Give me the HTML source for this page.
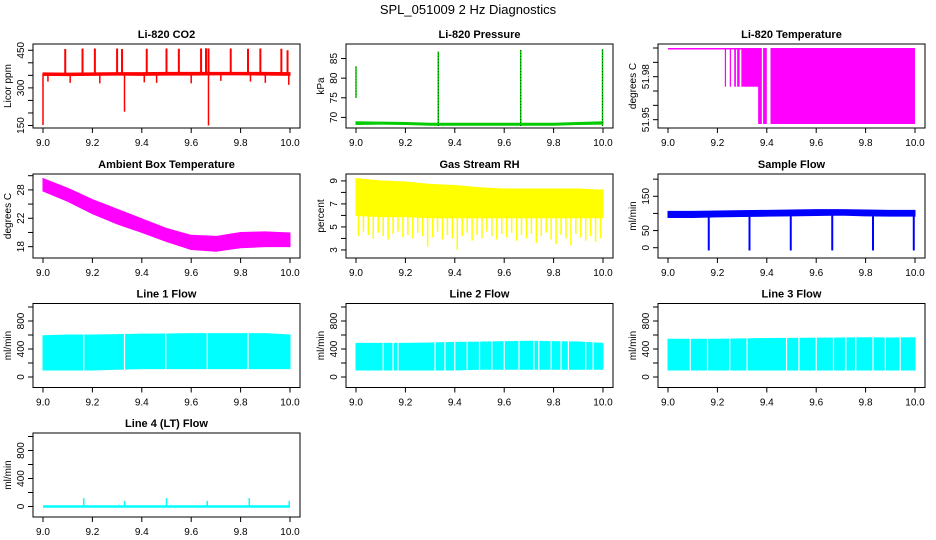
<!DOCTYPE html>
<html><head><meta charset="utf-8"><style>
body{margin:0;background:#fff;}
svg{display:block;font-family:"Liberation Sans",sans-serif;}
</style></head><body>
<svg id="c" width="936" height="540">
<text x="468" y="14" text-anchor="middle" font-size="13">SPL_051009  2 Hz Diagnostics</text>
</svg>
<script>
// ---- data ----
const xTicks = [9.0, 9.2, 9.4, 9.6, 9.8, 10.0];
const xTickLabels = ["9.0", "9.2", "9.4", "9.6", "9.8", "10.0"];
const gridX = [9.0, 9.1, 9.2, 9.3, 9.4, 9.5, 9.6, 9.7, 9.8, 9.9, 10.0];

// CO2
const co2Lo = [350, 349, 350, 351, 350, 351, 351, 352, 352, 351, 350];
const co2Hi = [360, 359, 360, 361, 361, 362, 362, 362, 362, 362, 361];
const co2UpX = [9.09, 9.16, 9.21, 9.30, 9.32, 9.42, 9.50, 9.55, 9.64, 9.66, 9.67, 9.76, 9.83, 9.88, 9.965, 9.99];
const co2UpV = [455, 457, 457, 457, 455, 456, 457, 456, 457, 458, 457, 457, 456, 457, 456, 450];
const co2DnX = [9.0, 9.33, 9.67, 9.02, 9.11, 9.23, 9.41, 9.46, 9.60, 9.72, 9.84, 9.90, 9.995];
const co2DnV = [152, 205, 150, 325, 320, 318, 322, 320, 318, 328, 325, 320, 312];
// Pressure
const presLo = [68.2, 68.3, 68.2, 68.0, 68.0, 68.0, 68.0, 68.0, 68.0, 68.2, 68.3];
const presHi = [68.9, 68.8, 68.7, 68.5, 68.5, 68.5, 68.5, 68.5, 68.5, 68.7, 68.9];
const presSpX = [9.0, 9.333, 9.667, 9.998];
const presSpLo = [75, 67.8, 67.8, 67.8];
const presSpHi = [83, 86.8, 87.2, 87.4];
// Li-820 temperature (fill segments)
const tSegStart = [9.0, 9.23, 9.25, 9.268, 9.28, 9.297, 9.365, 9.385, 9.415];
const tSegEnd   = [9.3, 9.235, 9.255, 9.275, 9.29, 9.37, 9.38, 9.40, 10.0];
const tSegLow   = [51.9995, 51.973, 51.973, 51.973, 51.973, 51.973, 51.947, 51.947, 51.947];
const tTop = 52.0;
// Ambient box temperature
const ambHi = [30.0, 28.3, 26.3, 24.6, 22.9, 21.2, 20.0, 19.8, 20.5, 20.6, 20.4];
const ambLo = [27.8, 26.0, 23.8, 22.0, 20.5, 18.9, 17.5, 17.2, 17.8, 18.0, 18.0];
// Gas stream RH
const rhHi = [9.2, 9.0, 8.9, 8.7, 8.6, 8.4, 8.3, 8.3, 8.3, 8.3, 8.2];
const rhLo = [6.0, 5.9, 5.9, 5.8, 5.8, 5.8, 5.8, 5.8, 5.8, 5.8, 5.8];
const rhDipX = [9.01,9.03,9.05,9.07,9.09,9.11,9.13,9.15,9.17,9.19,9.21,9.23,9.25,9.27,9.29,9.31,9.33,9.35,9.37,9.39,9.41,9.43,9.45,9.47,9.49,9.51,9.53,9.55,9.57,9.59,9.61,9.63,9.65,9.67,9.69,9.71,9.73,9.75,9.77,9.79,9.81,9.83,9.85,9.87,9.89,9.91,9.93,9.95,9.97,9.99];
const rhDipV = [4.2,4.6,4.3,4.0,4.5,4.2,3.9,4.4,4.6,4.1,4.3,4.0,4.5,4.2,3.3,4.1,4.6,3.9,4.3,4.0,3.0,4.2,4.5,3.8,4.3,4.0,4.6,4.2,3.9,4.4,4.1,4.5,3.8,4.3,4.0,4.4,3.6,4.2,4.5,3.9,3.5,4.3,4.0,3.4,4.4,4.1,3.8,4.2,3.7,4.0];
// Sample flow
const sfLo = [88, 88, 90, 91, 92, 93, 94, 95, 93, 92, 92];
const sfHi = [106, 106, 107, 108, 109, 110, 111, 111, 110, 109, 109];
const sfDipX = [9.165, 9.33, 9.497, 9.665, 9.83, 9.995];
const sfDipV = [-8, -8, -8, -8, -8, -8];
// Line flows
const l1Hi = [590, 600, 600, 605, 612, 615, 620, 620, 620, 620, 600];
const l1Lo = [100, 100, 100, 110, 120, 120, 120, 120, 120, 120, 120];
const l1GapX = [9.165, 9.33, 9.497, 9.665, 9.83];
const l2Hi = [480, 480, 480, 485, 495, 498, 505, 510, 505, 500, 480];
const l2Lo = [100, 100, 100, 100, 100, 110, 110, 110, 110, 110, 110];
const l2GapX = [9.11, 9.15, 9.17, 9.32, 9.36, 9.40, 9.45, 9.50, 9.55, 9.60, 9.66, 9.72, 9.74, 9.79, 9.83, 9.86, 9.93, 9.96];
const l3Hi = [540, 540, 540, 545, 550, 552, 555, 558, 560, 558, 560];
const l3Lo = [100, 100, 100, 100, 100, 100, 100, 100, 100, 100, 100];
const l3GapX = [9.09, 9.16, 9.25, 9.32, 9.48, 9.53, 9.60, 9.67, 9.72, 9.76, 9.83, 9.88, 9.94];
const l4SpX = [9.165, 9.33, 9.5, 9.665, 9.835, 9.997];
const l4SpV = [120, 80, 120, 80, 120, 80];
const l4Base = 0;

// ---- layout ----
const NS = "http://www.w3.org/2000/svg";
const svg = document.getElementById('c');
const colX = [33, 346, 658];
const rowY = [44, 174, 303.5, 433];
const BW = 267, BH = 84;
function el(tag, attrs, parent) {
  const e = document.createElementNS(NS, tag);
  for (const k in attrs) e.setAttribute(k, attrs[k]);
  (parent || svg).appendChild(e);
  return e;
}
function panel(name, col, row, title, ylab, ymin, ymax, yTicks, yLabels) {
  const x0 = colX[col], y0 = rowY[row];
  const g = el('g', {});
  
  
  const sx = v => x0 + 10 + (v - 9) * (BW - 20);
  const sy = v => y0 + BH - (v - ymin) / (ymax - ymin) * BH;
  const plot = el('g', {}, g);
  
  
  const box = el('rect', {x: x0, y: y0, width: BW, height: BH, fill: 'none', stroke: '#000', 'stroke-width': 1}, g);
  
  
  const t = el('text', {x: x0 + BW / 2, y: y0 - 6, 'text-anchor': 'middle', 'font-size': 11, 'font-weight': 'bold'}, g);
  t.textContent = title;
  
  
  const xa = el('g', {}, g);
  
  
  xTicks.forEach((v, i) => {
    el('line', {x1: sx(v), x2: sx(v), y1: y0 + BH, y2: y0 + BH + 5, stroke: '#000'}, xa);
    const tx = el('text', {x: sx(v), y: y0 + BH + 18, 'text-anchor': 'middle', 'font-size': 10}, xa);
    tx.textContent = xTickLabels[i];
  });
  const ya = el('g', {}, g);
  
  
  yTicks.forEach((v, i) => {
    el('line', {x1: x0, x2: x0 - 5, y1: sy(v), y2: sy(v), stroke: '#000'}, ya);
    if (yLabels[i]) {
      const tx = el('text', {x: 0, y: 0, 'text-anchor': 'middle', 'font-size': 10, transform: `translate(${x0 - 9},${sy(v)}) rotate(-90)`}, ya);
      tx.textContent = yLabels[i];
    }
  });
  const yl = el('text', {x: 0, y: 0, 'text-anchor': 'middle', 'font-size': 10, transform: `translate(${x0 - 22},${y0 + BH / 2}) rotate(-90)`}, g);
  yl.textContent = ylab;
  
  
  return {sx, sy, plot};
}
function band(p, hi, lo, color) {
  let pts = gridX.map((x, i) => p.sx(x) + ',' + p.sy(hi[i]));
  pts = pts.concat(gridX.slice().reverse().map((x, j) => p.sx(x) + ',' + p.sy(lo[lo.length - 1 - j])));
  const b = el('polygon', {points: pts.join(' '), fill: color, stroke: color, 'stroke-width': 1}, p.plot);
  
  
}
function vline(p, x, a, b, color, w, dash) {
  const l = el('line', {x1: p.sx(x), x2: p.sx(x), y1: p.sy(a), y2: p.sy(b), stroke: color, 'stroke-width': w || 1.5}, p.plot);
  if (dash) l.setAttribute('stroke-dasharray', dash);
  
  
  return l;
}

let p = panel('co2', 0, 0, 'Li-820 CO2', 'Licor ppm', 140, 475, [150,200,250,300,350,400,450], ['150','','','300','','','450']);
band(p, co2Hi, co2Lo, '#ff0000');
co2UpX.forEach((x, i) => vline(p, x, 355, co2UpV[i], '#ff0000', 2));
co2DnX.forEach((x, i) => vline(p, x, 355, co2DnV[i], '#ff0000', 1.5));

p = panel('pressure', 1, 0, 'Li-820 Pressure', 'kPa', 67.3, 88.7, [70,75,80,85], ['70','75','80','85']);
band(p, presHi, presLo, '#00cc00');
presSpX.forEach((x, i) => { vline(p, x, presSpLo[i], presSpHi[i], '#00cc00', 1.5); vline(p, x, presSpLo[i], presSpHi[i], '#004400', 0.8, '1,2'); });

p = panel('li820-temp', 2, 0, 'Li-820 Temperature', 'degrees C', 51.9442, 52.0028, [51.95,51.96,51.97,51.98,51.99,52.0], ['51.95','','','51.98','','']);
tSegStart.forEach((s, i) => {
  const r = el('rect', {x: p.sx(s), y: p.sy(tTop), width: Math.max(1, p.sx(tSegEnd[i]) - p.sx(s)), height: Math.max(1.5, p.sy(tSegLow[i]) - p.sy(tTop)), fill: '#ff00ff'}, p.plot);
  
  
});

p = panel('ambient-temp', 0, 1, 'Ambient Box Temperature', 'degrees C', 16.0, 30.8, [18,20.5,23,25.5,28,30.5], ['18','','22','','28','']);
band(p, ambHi, ambLo, '#ff00ff');

p = panel('gas-rh', 1, 1, 'Gas Stream RH', 'percent', 2.3, 9.6, [3,4,5,6,7,8,9], ['3','','5','','7','','9']);
band(p, rhHi, rhLo, '#ffff00');
rhDipX.forEach((x, i) => vline(p, x, 6.0, rhDipV[i], '#ffff00', 1.5));

p = panel('sample-flow', 2, 1, 'Sample Flow', 'ml/min', -30, 215, [0,50,100,150,200], ['0','50','','150','']);
band(p, sfHi, sfLo, '#0000ff');
sfDipX.forEach((x, i) => vline(p, x, 95, sfDipV[i], '#0000ff', 2));

const lineTicks = [0,200,400,600,800,1000], lineLabels = ['0','','400','','800',''];
[[l1Hi, l1Lo, l1GapX, 'line1-flow', 0, 2, 'Line 1 Flow'], [l2Hi, l2Lo, l2GapX, 'line2-flow', 1, 2, 'Line 2 Flow'], [l3Hi, l3Lo, l3GapX, 'line3-flow', 2, 2, 'Line 3 Flow']].forEach(c => {
  const q = panel(c[3], c[4], c[5], c[6], 'ml/min', -150, 1050, lineTicks, lineLabels);
  band(q, c[0], c[1], '#00ffff');
  c[2].forEach(x => vline(q, x, 80, 700, '#ffffff', 1.2));
});

p = panel('line4-flow', 0, 3, 'Line 4 (LT) Flow', 'ml/min', -150, 1050, lineTicks, lineLabels);
const base = el('line', {x1: p.sx(9), x2: p.sx(10), y1: p.sy(l4Base), y2: p.sy(l4Base), stroke: '#00ffff', 'stroke-width': 2.5}, p.plot);


l4SpX.forEach((x, i) => vline(p, x, l4Base, l4SpV[i], '#00ffff', 1.5));
</script>
</body></html>
